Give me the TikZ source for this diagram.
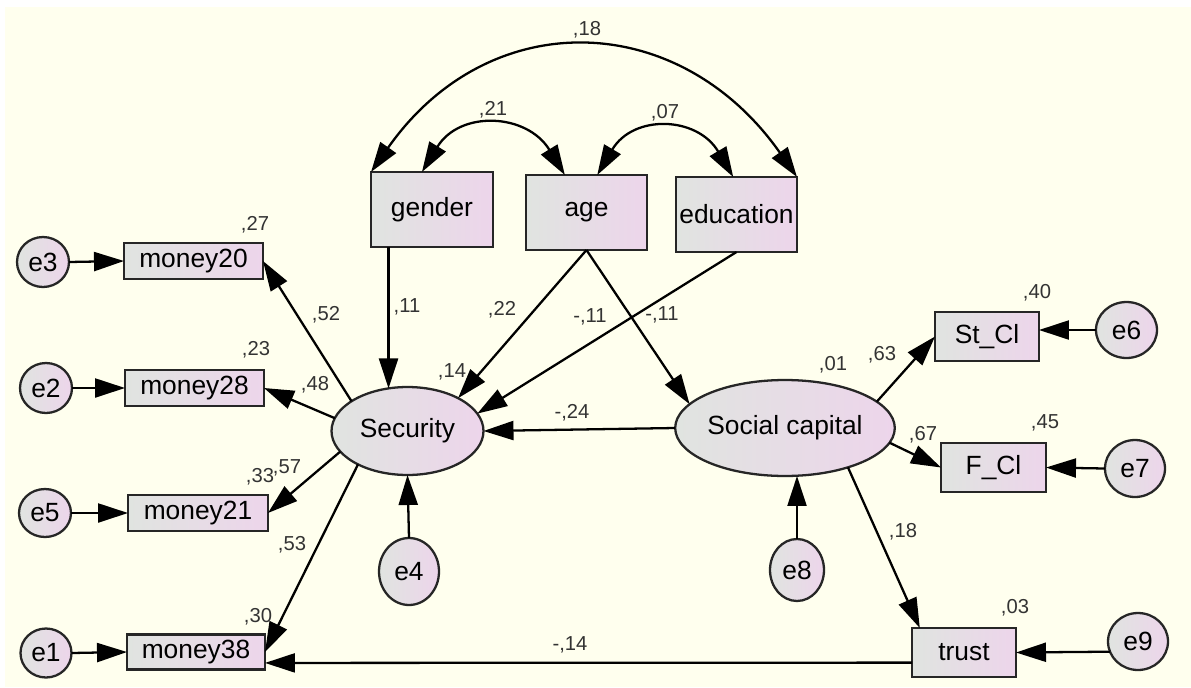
\documentclass[tikz,border=0pt]{standalone}
\usepackage{fontspec}
\setmainfont{Liberation Sans}
\usetikzlibrary{arrows.meta,shapes.geometric,calc}
\definecolor{bg}{HTML}{FFFFEE}
\definecolor{gfill}{HTML}{E0E4E0}
\definecolor{pfill}{HTML}{EDD5EB}
\definecolor{lbl}{HTML}{333333}
\begin{document}
\begin{tikzpicture}[x=0.02cm,y=-0.02cm,
  every node/.style={inner sep=0pt, outer sep=0pt},
  grad/.style={left color=gfill, right color=pfill, draw=black!85, line width=1.3pt},
  obs/.style={grad, rectangle, font=\fontsize{15}{18}\selectfont},
  lat/.style={grad, ellipse, font=\fontsize{15}{18}\selectfont},
  lab/.style={font=\fontsize{11.5}{13}\selectfont, text=lbl},
  arr/.style={-{Triangle[length=0.6cm,width=0.38cm]}, line width=1.3pt},
  darr/.style={{Triangle[length=0.6cm,width=0.38cm]}-{Triangle[length=0.6cm,width=0.38cm]}, line width=1.3pt},
]
\useasboundingbox (0,0) rectangle (1191,687);
\fill[white] (0,0) rectangle (1191,687);
\fill[bg] (5,7) rectangle (1191,687);

% observed variables
\node[obs, minimum width=2.78cm, minimum height=0.72cm] (m20) at (193.5,261) {money20};
\node[obs, minimum width=2.78cm, minimum height=0.72cm] (m28) at (194.5,388) {money28};
\node[obs, minimum width=2.80cm, minimum height=0.72cm] (m21) at (198,513) {money21};
\node[obs, minimum width=2.76cm, minimum height=0.70cm] (m38) at (196,652) {money38};
\node[obs, minimum width=2.44cm, minimum height=1.50cm] (gender) at (432,209.5) {gender};
\node[obs, minimum width=2.42cm, minimum height=1.50cm] (age) at (586.5,212.5) {age};
\node[obs, minimum width=2.42cm, minimum height=1.50cm] (edu) at (736.5,214.5) {education};
\node[obs, minimum width=2.08cm, minimum height=0.98cm] (stcl) at (987,336.5) {St\_Cl};
\node[obs, minimum width=2.10cm, minimum height=0.98cm] (fcl) at (993.5,467.5) {F\_Cl};
\node[obs, minimum width=2.08cm, minimum height=0.98cm] (trust) at (964,652.5) {trust};

% latent variables
\node[lat, minimum width=3.04cm, minimum height=1.76cm] (sec) at (407.5,431) {Security};
\node[lat, minimum width=3.52cm, minimum height=1.92cm] (sc) at (785,428) {Social capital};

% errors
\node[lat, minimum width=1.04cm, minimum height=1.00cm] (e3) at (43,262) {e3};
\node[lat, minimum width=1.04cm, minimum height=1.00cm] (e2) at (46,388) {e2};
\node[lat, minimum width=1.04cm, minimum height=0.96cm] (e5) at (45,513) {e5};
\node[lat, minimum width=1.02cm, minimum height=0.98cm] (e1) at (46,653) {e1};
\node[lat, minimum width=1.20cm, minimum height=1.34cm] (e4) at (409,571.5) {e4};
\node[lat, minimum width=1.08cm, minimum height=1.24cm] (e8) at (797,570) {e8};
\node[lat, minimum width=1.22cm, minimum height=1.12cm] (e6) at (1126.5,330) {e6};
\node[lat, minimum width=1.20cm, minimum height=1.14cm] (e7) at (1135,468.5) {e7};
\node[lat, minimum width=1.20cm, minimum height=1.14cm] (e9) at (1138,641.5) {e9};

% error arrows
\draw[arr] (e3.east) -- (m20.west);
\draw[arr] (e2.east) -- (m28.west);
\draw[arr] (e5.east) -- (m21.west);
\draw[arr] (e1.east) -- (m38.west);
\draw[arr] (e4.north) -- (sec.south);
\draw[arr] (e8.north) -- (e8.north |- sc.south);
\draw[arr] (e6.west) -- (e6.west -| stcl.east);
\draw[arr] (e7.west) -- (fcl.east);
\draw[arr] (e9.200) -- (trust.east);

% loadings
\draw[arr] (sec.152) -- (m20.east);
\draw[arr] (sec.170) -- (m28.east);
\draw[arr] (sec.197) -- (m21.east);
\draw[arr] (sec.214) -- (m38.east);
\draw[arr] (sc.16) -- (stcl.west);
\draw[arr] (sc.352) -- (fcl.west);
\draw[arr] (sc.328) -- (trust.151);

% structural paths
\draw[arr] (sec.114 |- gender.south) -- (sec.114);
\draw[arr] (age.south) -- (sec.33);
\draw[arr] (edu.south) -- (sec.14);
\draw[arr] (age.south) -- (sc.166);
\draw[arr] (sc.west) -- (sec.east);
\draw[arr] (trust.191) -- (m38.351);

% covariances
\draw[darr] (gender.north west) .. controls +(118,-168) and +(-118,-168) .. (edu.north east);
\draw[darr] (gender.105) .. controls +(38,-62) and +(-38,-62) .. (age.120);
\draw[darr] (age.74) .. controls +(36,-61) and +(-36,-61) .. (edu.95);

% labels
\node[lab] (l18a) at (587,30) {,18};
\node[lab] (l21) at (493,110) {,21};
\node[lab] (l07) at (665,113) {,07};
\node[lab] (l27) at (255,225) {,27};
\node[lab] (l23) at (256,350) {,23};
\node[lab] (l52) at (326,315) {,52};
\node[lab] (l48) at (315,385) {,48};
\node[lab] (l11a) at (407,307) {,11};
\node[lab] (l22) at (502,310) {,22};
\node[lab] (l11b) at (590,317) {-,11};
\node[lab] (l11c) at (662,315) {-,11};
\node[lab] (l14a) at (452,372) {,14};
\node[lab] (l24) at (572,413) {-,24};
\node[lab] (l33) at (260,477) {,33};
\node[lab] (l57) at (287,468) {,57};
\node[lab] (l53) at (292,545) {,53};
\node[lab] (l30) at (258,617) {,30};
\node[lab] (l14b) at (570,645) {-,14};
\node[lab] (l01) at (833,365) {,01};
\node[lab] (l63) at (882,355) {,63};
\node[lab] (l67) at (923,435) {,67};
\node[lab] (l45) at (1045,423) {,45};
\node[lab] (l40) at (1037,293) {,40};
\node[lab] (l18b) at (903,532) {,18};
\node[lab] (l03) at (1015,608) {,03};
\end{tikzpicture}
\end{document}
